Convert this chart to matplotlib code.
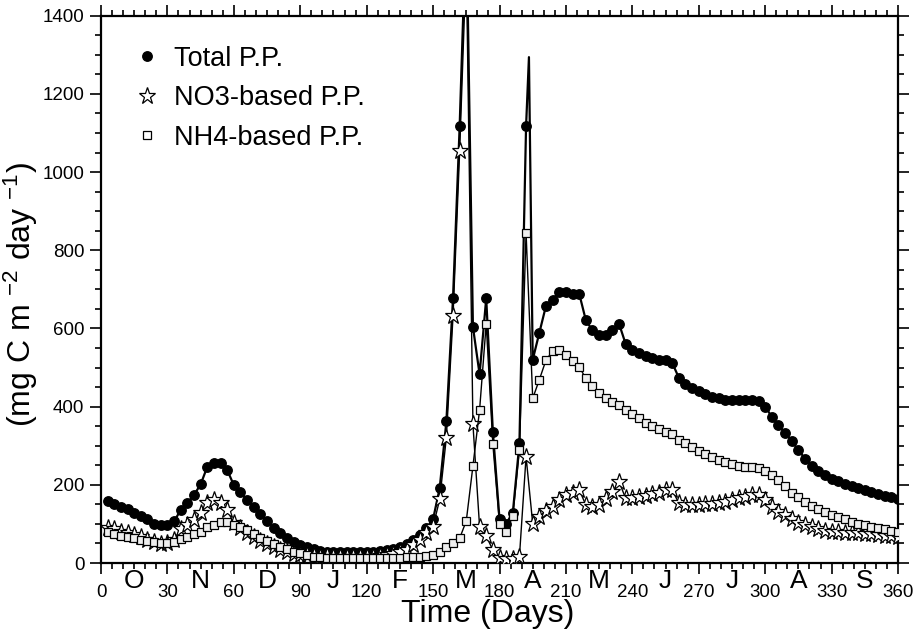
import numpy as np
import matplotlib
matplotlib.use("Agg")
import matplotlib.pyplot as plt
from matplotlib.lines import Line2D
from matplotlib.ticker import MultipleLocator
import matplotlib.transforms as mtransforms

plt.rcParams['font.family'] = ['Liberation Sans', 'DejaVu Sans']
plt.rcParams['mathtext.default'] = 'regular'

# sampling days (every 3 days)
days = np.arange(3, 361, 3)

total = [158, 150, 144, 137, 127, 120, 112, 101, 97, 98,
         107, 135, 154, 174, 201, 246, 257, 257, 238, 199,
         182, 161, 144, 126, 107, 90, 76, 63, 54, 46,
         40, 36, 31, 29, 28, 27, 27, 27, 27, 28,
         28, 30, 33, 37, 42, 49, 59, 72, 89, 112,
         192, 362, 677, 1117, 1650, 604, 483, 677, 336, 113,
         101, 128, 306, 1117, 520, 589, 658, 674, 692, 692,
         689, 689, 621, 595, 583, 583, 595, 612, 560, 546,
         537, 529, 525, 520, 519, 512, 474, 459, 448, 440,
         432, 425, 421, 416, 417, 417, 417, 416, 415, 400,
         374, 353, 333, 312, 289, 267, 248, 236, 225, 216,
         210, 202, 197, 191, 187, 182, 176, 171, 168, 163]

nh4 = [80, 74, 70, 67, 63, 59, 56, 53, 50, 50,
       54, 61, 67, 74, 80, 91, 97, 106, 106, 97,
       91, 84, 74, 64, 57, 48, 42, 35, 29, 25,
       20, 16, 15, 12, 12, 12, 12, 12, 12, 12,
       12, 12, 12, 13, 14, 15, 15, 15, 18, 20,
       29, 42, 50, 63, 108, 248, 391, 612, 304, 100,
       80, 120, 289, 845, 421, 469, 519, 542, 546, 531,
       516, 502, 472, 452, 435, 423, 412, 405, 391, 381,
       370, 359, 351, 342, 335, 329, 314, 306, 296, 287,
       278, 270, 263, 259, 253, 248, 246, 245, 242, 236,
       225, 212, 197, 180, 168, 157, 146, 138, 130, 123,
       118, 112, 106, 101, 97, 93, 90, 87, 83, 80]

no3 = [89, 87, 80, 76, 72, 66, 59, 54, 49, 50,
       60, 86, 97, 110, 129, 153, 161, 153, 135, 102,
       90, 76, 66, 57, 49, 42, 34, 28, 24, 21,
       20, 19, 16, 17, 16, 15, 15, 15, 15, 16,
       16, 18, 20, 23, 27, 34, 45, 60, 76, 93,
       163, 321, 631, 1053, 1540, 355, 93, 69, 33, 12,
       10, 10, 16, 272, 101, 118, 134, 144, 161, 174,
       178, 188, 148, 142, 148, 163, 182, 208, 165, 166,
       169, 171, 176, 180, 187, 187, 153, 148, 148, 148,
       151, 152, 153, 157, 161, 165, 169, 174, 174, 161,
       144, 131, 123, 112, 103, 97, 91, 86, 83, 80,
       79, 78, 76, 76, 74, 74, 72, 70, 69, 67]

# daily spike of the total curve drawn by the line only (no marker)
spike_days = [193.3]
spike_total = [1294]

months = ['O', 'N', 'D', 'J', 'F', 'M', 'A', 'M', 'J', 'J', 'A', 'S']
month_pos = np.arange(15, 360, 30)

fig = plt.figure(figsize=(9.22, 6.36), dpi=100)
ax = fig.add_axes([101/922, 1 - 563/636, 797/922, 547.3/636])

#line of total includes the spike point
ld = np.concatenate([days, spike_days])
lv = np.concatenate([total, spike_total])
order = np.argsort(ld)
ax.plot(ld[order], lv[order], '-', color='black', lw=1.6, zorder=2)
ax.plot(days, total, 'o', color='black', ms=6.8, zorder=2)

ax.plot(days, no3, '-', color='black', lw=1.0, zorder=3)
ax.plot(days, no3, '*', mfc='white', mec='black', mew=0.9, ms=12.5, zorder=3)

ax.plot(days, nh4, '-', color='black', lw=1.0, zorder=4)
ax.plot(days, nh4, 's', mfc='#eeeeee', mec='black', mew=0.9, ms=6.2, zorder=4)

ax.set_xlim(0, 360)
ax.set_ylim(0, 1400)
ax.xaxis.set_major_locator(MultipleLocator(30))
ax.xaxis.set_minor_locator(MultipleLocator(5))
ax.yaxis.set_major_locator(MultipleLocator(200))
ax.yaxis.set_minor_locator(MultipleLocator(50))
ax.tick_params(which='both', direction='out', top=True, right=True, width=1.2)
ax.tick_params(which='major', length=8)
ax.tick_params(which='minor', length=4.5)
ax.tick_params(axis='x', labelsize=13.5, pad=7)
ax.tick_params(axis='y', labelsize=13.5, pad=4)
for s in ax.spines.values():
    s.set_linewidth(1.6)

trans = mtransforms.blended_transform_factory(ax.transData, ax.transAxes)
for m, p in zip(months, month_pos):
    ax.text(p, -0.046, m, transform=trans, ha='center', va='baseline', fontsize=19)

ax.set_xlabel('Time (Days)', fontsize=23)
ax.xaxis.set_label_coords(0.485, -0.066)
ax.set_ylabel('(mg C m $^{-2}$ day $^{-1}$)', fontsize=23)
ax.yaxis.set_label_coords(-0.077, 0.49)

handles = [Line2D([], [], ls='none', marker='o', color='black', ms=6.8),
           Line2D([], [], ls='none', marker='*', mfc='white', mec='black', mew=0.9, ms=12.5),
           Line2D([], [], ls='none', marker='s', mfc='white', mec='black', mew=0.9, ms=6.2)]
ax.legend(handles, ['Total P.P.', 'NO3-based P.P.', 'NH4-based P.P.'],
          loc='upper left', bbox_to_anchor=(0.01, 0.99), frameon=False,
          fontsize=19.5, handlelength=1.0, handletextpad=0.5, labelspacing=0.5)

fig.savefig('out.png', dpi=100)
